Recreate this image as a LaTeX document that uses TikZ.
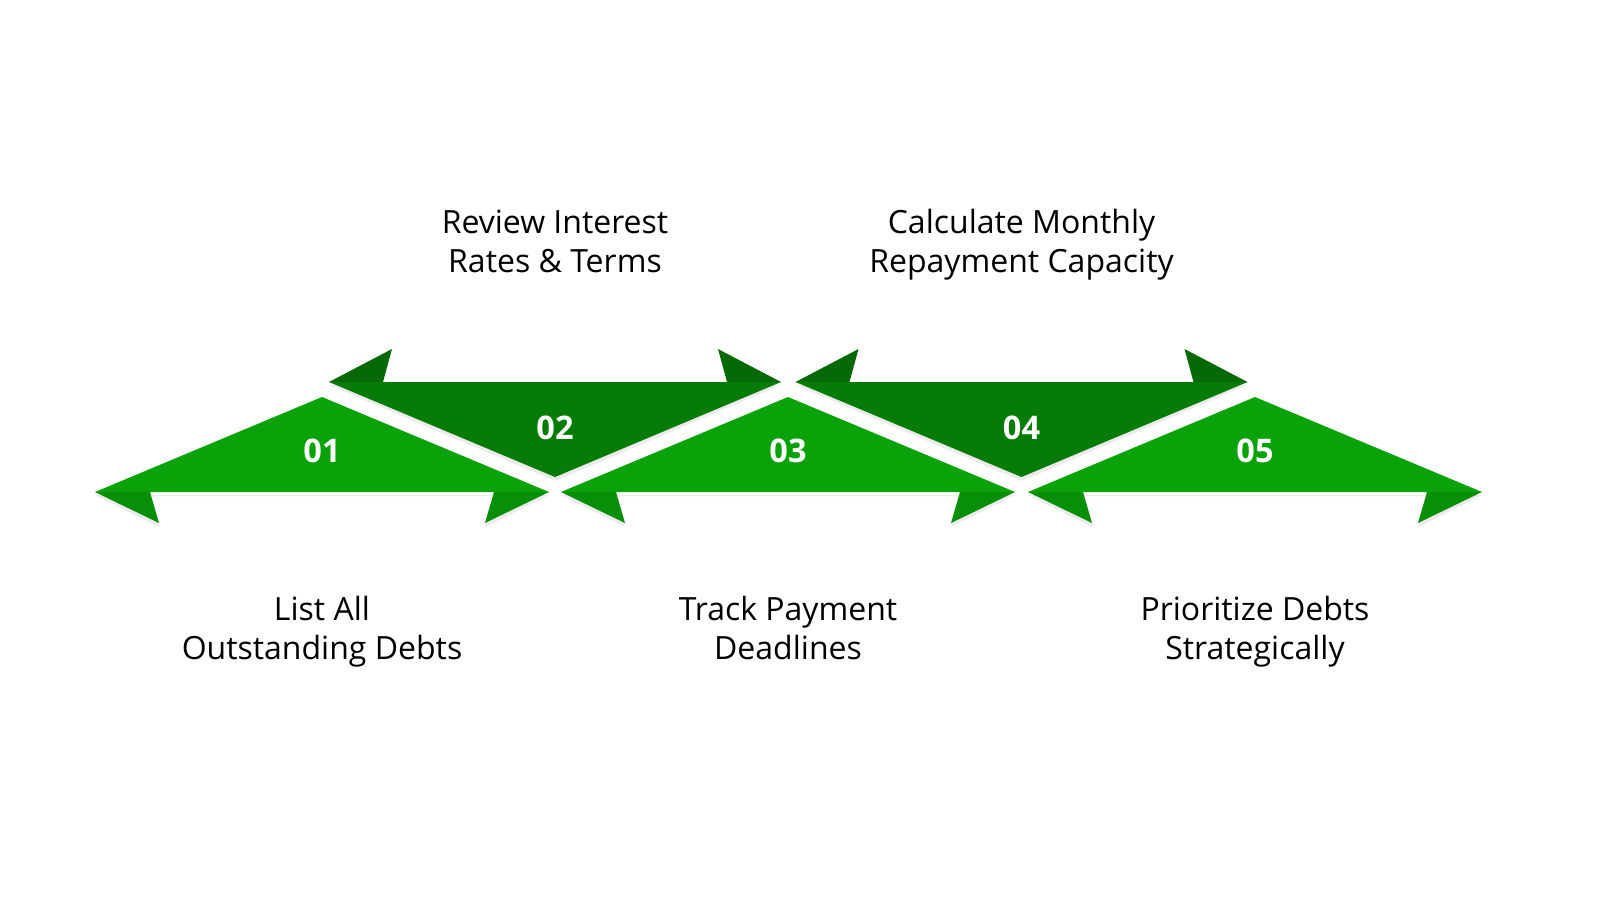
\documentclass[tikz,border=0pt]{standalone}
\usepackage{fontspec}
\setmainfont{Open Sans}
\definecolor{lightg}{HTML}{09A309}
\definecolor{lightb}{HTML}{078F07}
\definecolor{darkg}{HTML}{067C06}
\definecolor{darkb}{HTML}{056905}
\definecolor{shad}{HTML}{000000}
\tikzset{
  numtxt/.style={text=white,font=\fontsize{32.5}{32.5}\selectfont\bfseries,inner sep=0pt},
  lbltxt/.style={text=black,font=\fontsize{32}{38.5}\selectfont,align=center,inner sep=0pt,anchor=base},
  shadowfill/.style={fill=shad,fill opacity=0.08},
}
\newcommand{\bottomshape}[2]{%
  \fill[shadowfill] (#1-227,495) -- (#1-163,527) -- (#1-172,496) -- (#1+172,496) -- (#1+163,527) -- (#1+227,495) -- cycle;
  \fill[lightg] (#1-227,492) -- (#1,397) -- (#1+227,492) -- cycle;
  \fill[lightb] (#1-227,492) -- (#1-163,523) -- (#1-172,492) -- cycle;
  \fill[lightb] (#1+227,492) -- (#1+163,523) -- (#1+172,492) -- cycle;
  \node[numtxt] (n#2) at (#1,451) {0#2};
}
\newcommand{\topshape}[2]{%
  \fill[shadowfill] (#1-226,385) -- (#1,481) -- (#1+226,385) -- cycle;
  \fill[darkg] (#1-226,382) -- (#1,477) -- (#1+226,382) -- cycle;
  \fill[darkb] (#1-226,382) -- (#1-163,349) -- (#1-172,382) -- cycle;
  \fill[darkb] (#1+226,382) -- (#1+163,349) -- (#1+172,382) -- cycle;
  \node[numtxt] (n#2) at (#1,428) {0#2};
}
\begin{document}
\begin{tikzpicture}[x=1pt,y=-1pt]
\useasboundingbox (0,0) rectangle (1600,900);
\fill[white] (0,0) rectangle (1600,900);
\bottomshape{322}{1}
\topshape{555}{2}
\bottomshape{788}{3}
\topshape{1021.5}{4}
\bottomshape{1255}{5}
\node[lbltxt] (l2) at (555,272) {Review Interest\\Rates \& Terms};
\node[lbltxt] (l4) at (1021.5,272) {Calculate Monthly\\Repayment Capacity};
\node[lbltxt] (l1) at (322,659) {List All\\Outstanding Debts};
\node[lbltxt] (l3) at (788,659) {Track Payment\\Deadlines};
\node[lbltxt] (l5) at (1255,659) {Prioritize Debts\\Strategically};
\end{tikzpicture}
\end{document}
